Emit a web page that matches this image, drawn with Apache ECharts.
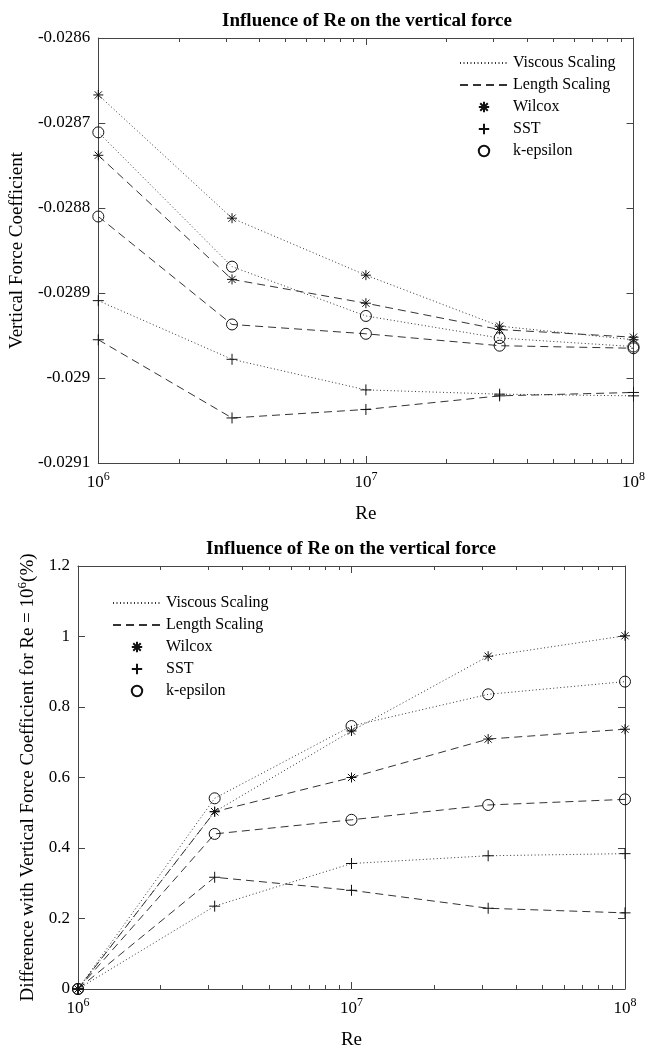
<!DOCTYPE html>
<html><head><meta charset="utf-8">
<script src="https://cdn.jsdelivr.net/npm/echarts@6/dist/echarts.min.js"></script>
<style>html,body{margin:0;padding:0;background:#fff}#c{width:648px;height:1051px}</style>
</head><body><div id="c"></div>
<script>
// ---------- data ----------
const re = [1e6, 3.16e6, 1e7, 3.16e7, 1e8];
const xMajorTicks = [1e6, 1e7, 1e8];
const xMinorTicks = [2e6, 3e6, 4e6, 5e6, 6e6, 7e6, 8e6, 9e6, 2e7, 3e7, 4e7, 5e7, 6e7, 7e7, 8e7, 9e7];
const topYTicks = [-0.0291, -0.029, -0.0289, -0.0288, -0.0287, -0.0286];
const bottomYTicks = [0, 0.2, 0.4, 0.6, 0.8, 1, 1.2];
const legendNames = ['Viscous Scaling', 'Length Scaling', 'Wilcox', 'SST', 'k-epsilon'];
const titleText = 'Influence of Re on the vertical force';

// top chart: vertical force coefficient
const cWilcoxViscous = [-0.028667, -0.028812, -0.028879, -0.028939, -0.028955];
const cWilcoxLength  = [-0.028738, -0.028884, -0.028912, -0.028943, -0.028952];
const cSstViscous    = [-0.028909, -0.028978, -0.029014, -0.029019, -0.029021];
const cSstLength     = [-0.028955, -0.029047, -0.029037, -0.029021, -0.029017];
const cKepsViscous   = [-0.028711, -0.028869, -0.028927, -0.028953, -0.028963];
const cKepsLength    = [-0.028810, -0.028937, -0.028948, -0.028962, -0.028965];

// bottom chart: difference (%) with Re = 1e6
const dWilcoxViscous = [0, 0.503, 0.732, 0.944, 1.002];
const dWilcoxLength  = [0, 0.503, 0.600, 0.709, 0.737];
const dSstViscous    = [0, 0.235, 0.356, 0.378, 0.384];
const dSstLength     = [0, 0.317, 0.280, 0.229, 0.216];
const dKepsViscous   = [0, 0.541, 0.746, 0.836, 0.872];
const dKepsLength    = [0, 0.440, 0.480, 0.522, 0.538];

// ---------- styles ----------
const FONT = '"Liberation Serif", "Times New Roman", serif';
const AX = '#444';
const LINE = '#333';
const SYM = {
  'Wilcox': 'path://M0,-1L0,1M-1,0L1,0M-0.72,-0.72L0.72,0.72M-0.72,0.72L0.72,-0.72',
  'SST': 'path://M0,-1L0,1M-1,0L1,0',
  'k-epsilon': 'circle'
};
const SYMSIZE = {'Wilcox': 10, 'SST': 11, 'k-epsilon': 11};
const DASH = {'Viscous Scaling': [1, 2.5], 'Length Scaling': [8, 5]};
const markStyle = {color: 'rgba(0,0,0,0)', borderColor: '#111', borderWidth: 1};
const hiddenMark = {color: 'rgba(0,0,0,0)', borderColor: 'rgba(0,0,0,0)', borderWidth: 0, opacity: 0};

function dataSeries(values, scaling, model, g) {
  return {
    type: 'line', name: model + ' ' + scaling,
    xAxisIndex: g * 4, yAxisIndex: g * 2,
    data: re.map((x, i) => [x, values[i]]),
    symbol: SYM[model], symbolSize: SYMSIZE[model],
    lineStyle: {color: LINE, width: 1, type: DASH[scaling]},
    itemStyle: markStyle, silent: true, clip: false,
    emphasis: {disabled: true}
  };
}
function isLineEntry(name) { return DASH[name] !== undefined; }
function legendSeries(name) {
  const isLine = isLineEntry(name);
  return {
    type: 'line', name: name, xAxisIndex: 0, yAxisIndex: 0, data: [],
    symbol: isLine ? 'none' : SYM[name], symbolSize: isLine ? 0 : SYMSIZE[name],
    lineStyle: isLine ? {color: LINE, width: 1, type: DASH[name]} : {width: 0, opacity: 0},
    itemStyle: isLine ? hiddenMark : markStyle
  };
}

const xLabelRich = {
  b: {fontSize: 17, fontFamily: FONT, color: '#000', verticalAlign: 'bottom'},
  s: {fontSize: 12, fontFamily: FONT, color: '#000', verticalAlign: 'top', padding: [0, 0, 8, 0]}
};
function xAxes(g, nameGap) {
  const base = {type: 'log', gridIndex: g, min: 1e6, max: 1e8, logBase: 10,
    splitLine: {show: false}, minorTick: {show: false}, silent: true};
  return [
    Object.assign({}, base, {position: 'bottom', name: 'Re', nameLocation: 'middle', nameGap: nameGap,
      nameTextStyle: {fontSize: 19, fontFamily: FONT, color: '#000'},
      axisLine: {show: true, lineStyle: {color: AX, width: 1}},
      axisTick: {show: true, inside: true, length: 7, lineStyle: {color: AX}, customValues: xMajorTicks},
      axisLabel: {show: true, margin: 8, customValues: xMajorTicks,
        formatter: v => '{b|10}{s|' + Math.round(Math.log10(v)) + '}', rich: xLabelRich}}),
    Object.assign({}, base, {position: 'bottom', axisLine: {show: false},
      axisTick: {show: true, inside: true, length: 4, lineStyle: {color: AX}, customValues: xMinorTicks},
      axisLabel: {show: false}}),
    Object.assign({}, base, {position: 'top', axisLine: {show: true, lineStyle: {color: AX, width: 1}},
      axisTick: {show: true, inside: true, length: 7, lineStyle: {color: AX}, customValues: xMajorTicks},
      axisLabel: {show: false}}),
    Object.assign({}, base, {position: 'top', axisLine: {show: false},
      axisTick: {show: true, inside: true, length: 4, lineStyle: {color: AX}, customValues: xMinorTicks},
      axisLabel: {show: false}})
  ];
}
function yAxes(g, ticks, min, max, interval, decimals, name, nameGap, nameRich) {
  return [
    {type: 'value', gridIndex: g, position: 'left', min: min, max: max, interval: interval,
      splitLine: {show: false}, silent: true,
      name: name, nameLocation: 'middle', nameRotate: 90, nameGap: nameGap,
      nameTextStyle: Object.assign({fontSize: 19, fontFamily: FONT, color: '#000'}, nameRich ? {rich: nameRich} : {}),
      axisLine: {show: true, lineStyle: {color: AX, width: 1}},
      axisTick: {show: true, inside: true, length: 7, lineStyle: {color: AX}, customValues: ticks},
      axisLabel: {show: true, margin: 8, fontSize: 17, fontFamily: FONT, color: '#000', customValues: ticks,
        formatter: v => String(Number(v.toFixed(decimals)))}},
    {type: 'value', gridIndex: g, position: 'right', min: min, max: max, interval: interval,
      splitLine: {show: false}, silent: true,
      axisLine: {show: true, lineStyle: {color: AX, width: 1}},
      axisTick: {show: true, inside: true, length: 7, lineStyle: {color: AX}, customValues: ticks},
      axisLabel: {show: false}}
  ];
}
function legend(left, top) {
  return {
    data: legendNames.map(n => isLineEntry(n) ? {name: n, itemStyle: hiddenMark} : {name: n}),
    orient: 'vertical', left: left, top: top,
    itemWidth: 48, itemHeight: 13, itemGap: 6, padding: 0, selectedMode: false,
    textStyle: {fontSize: 16, fontFamily: FONT, color: '#000', lineHeight: 16}
  };
}

const series = [
  dataSeries(cWilcoxViscous, 'Viscous Scaling', 'Wilcox', 0),
  dataSeries(cWilcoxLength, 'Length Scaling', 'Wilcox', 0),
  dataSeries(cSstViscous, 'Viscous Scaling', 'SST', 0),
  dataSeries(cSstLength, 'Length Scaling', 'SST', 0),
  dataSeries(cKepsViscous, 'Viscous Scaling', 'k-epsilon', 0),
  dataSeries(cKepsLength, 'Length Scaling', 'k-epsilon', 0),
  dataSeries(dWilcoxViscous, 'Viscous Scaling', 'Wilcox', 1),
  dataSeries(dWilcoxLength, 'Length Scaling', 'Wilcox', 1),
  dataSeries(dSstViscous, 'Viscous Scaling', 'SST', 1),
  dataSeries(dSstLength, 'Length Scaling', 'SST', 1),
  dataSeries(dKepsViscous, 'Viscous Scaling', 'k-epsilon', 1),
  dataSeries(dKepsLength, 'Length Scaling', 'k-epsilon', 1)
].concat(legendNames.map(legendSeries));

const supRich = {
  a: {fontSize: 19, fontFamily: FONT, color: '#000', verticalAlign: 'bottom'},
  s: {fontSize: 13, fontFamily: FONT, color: '#000', verticalAlign: 'top', padding: [0, 0, 9, 0]}
};

const option = {
  animation: false,
  backgroundColor: '#fff',
  grid: [
    {left: 96, top: 38, width: 542, height: 425, containLabel: false},
    {left: 78, top: 566, width: 547, height: 426, containLabel: false}
  ],
  xAxis: xAxes(0, 42).concat(xAxes(1, 42)),
  yAxis: yAxes(0, topYTicks, -0.0291, -0.0286, 0.0001, 4, 'Vertical Force Coefficient', 66, null)
    .concat(yAxes(1, bottomYTicks, 0, 1.2, 0.2, 1,
      '{a|Difference with Vertical Force Coefficient for Re = 10}{s|6}{a|(%)}', 38, supRich)),
  legend: [legend(459, 55), legend(112, 595)],
  graphic: [
    {type: 'text', x: 367, y: 21, silent: true,
      style: {text: titleText, align: 'center', verticalAlign: 'middle', fontSize: 19, fontWeight: 'bold', fontFamily: FONT, fill: '#000'}},
    {type: 'text', x: 351, y: 549, silent: true,
      style: {text: titleText, align: 'center', verticalAlign: 'middle', fontSize: 19, fontWeight: 'bold', fontFamily: FONT, fill: '#000'}}
  ],
  series: series
};
const chart = echarts.init(document.getElementById('c'), null, {renderer: 'canvas'});
chart.setOption(option);
</script></body></html>
